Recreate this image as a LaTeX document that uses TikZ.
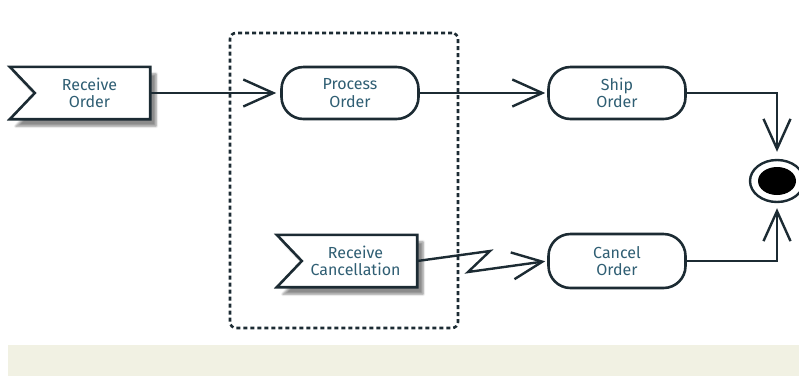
\documentclass[tikz,border=0pt]{standalone}
\usepackage{fontspec}
\setmainfont{Fira Sans}
\usetikzlibrary{arrows.meta,shapes.geometric,shadows.blur,calc}
\definecolor{ink}{HTML}{1C2B33}
\definecolor{labeltxt}{HTML}{2F5E73}
\definecolor{band}{HTML}{F1F1E3}
\begin{document}
\begin{tikzpicture}[x=1pt,y=-1pt,
  every node/.style={font=\fontsize{16}{17.5}\selectfont, text=labeltxt, align=center, inner sep=0pt},
  action/.style={draw=ink, fill=white, line width=2.6pt, rounded corners=22pt,
    minimum width=137pt, minimum height=52pt},
  accept/.style={minimum width=115pt, minimum height=52pt},
  acceptshape/.style={draw=ink, fill=white, line width=2.6pt, line join=miter,
    blur shadow={shadow xshift=6pt, shadow yshift=-7pt, shadow blur steps=6, shadow opacity=45}},
  flow/.style={draw=ink, line width=2.4pt,
    -{Straight Barb[length=30pt,width=27pt,line width=2.4pt]}},
  partition/.style={draw=ink, line width=2.6pt, dash pattern=on 4pt off 3pt, rounded corners=6pt},
]
\useasboundingbox (0,0) rectangle (799,376);
% pale band along the bottom
\fill[band] (8,345) rectangle (799,376);

% interruptible region
\node[partition, minimum width=228pt, minimum height=295pt] (region) at (344,180.5) {};

% accept-event actions
\node[accept] (ro) at (92.5,93) {};
\draw[acceptshape] ([xshift=-25pt]ro.north west) -- (ro.north east) -- (ro.south east)
  -- ([xshift=-25pt]ro.south west) -- (ro.west) -- cycle;
\node at ([xshift=-3pt]ro.center) {Receive\\Order};

\node[accept] (rc) at (359.5,261) {};
\draw[acceptshape] ([xshift=-25pt]rc.north west) -- (rc.north east) -- (rc.south east)
  -- ([xshift=-25pt]rc.south west) -- (rc.west) -- cycle;
\node at ([xshift=-4pt]rc.center) {Receive\\Cancellation};

% actions
\node[action] (po) at (350,93) {Process\\Order};
\node[action] (so) at (617,93) {Ship\\Order};
\node[action, minimum height=54pt] (co) at (617,261) {Cancel\\Order};

% final node
\node[draw=ink, line width=2.4pt, ellipse, minimum width=54pt, minimum height=42pt] (end) at (777,181) {};
\node[fill=black, ellipse, minimum width=38pt, minimum height=28pt] (endin) at (end.center) {};

% flows
\draw[flow, shorten >=4pt] (ro.east) -- (po.west);
\draw[flow, shorten >=2pt] (po.east) -- (so.west);
\draw[flow, shorten >=7pt] (so.east) -| (end.north);
\draw[flow, shorten >=5pt] (co.east) -| (end.south);

% interrupting edge
\coordinate (zz1) at (490,251);
\coordinate (zz2) at (468,272);
\draw[flow, line join=miter, shorten >=2pt] (rc.east) -- (zz1) -- (zz2) -- (co.west);
\end{tikzpicture}
\end{document}
